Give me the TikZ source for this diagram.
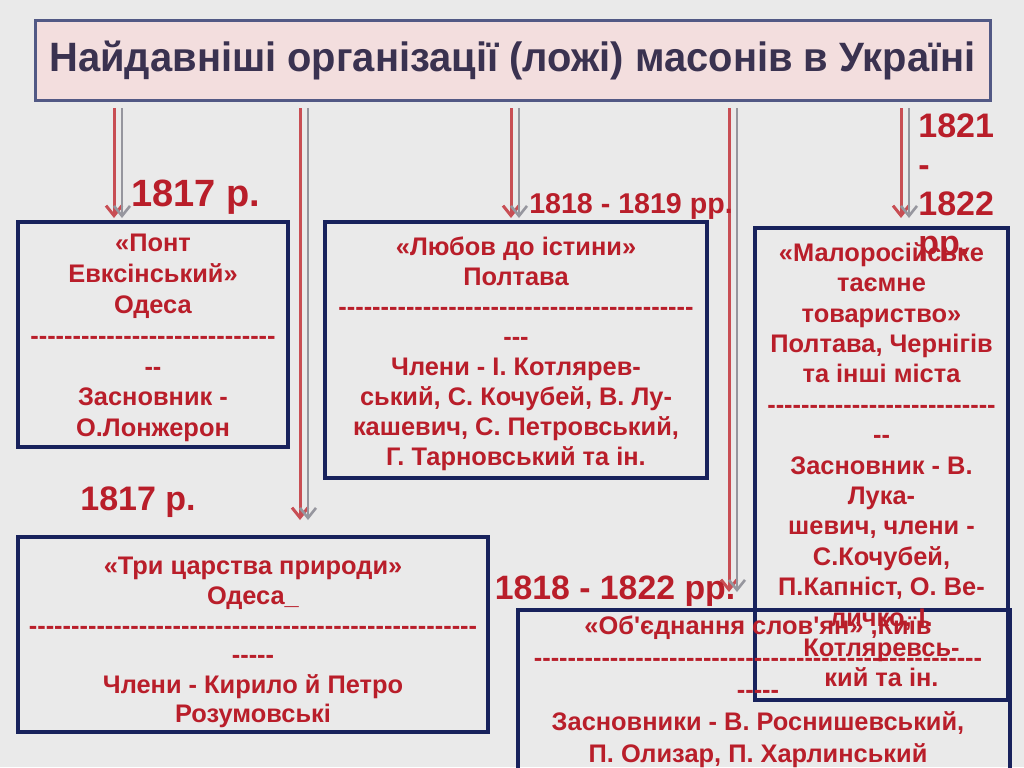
\documentclass[tikz,border=0pt]{standalone}
\usepackage{fontspec}
\setmainfont{Liberation Sans}[Ligatures=TeXOff]
\usetikzlibrary{arrows.meta,fit,positioning}
\definecolor{lodgered}{RGB}{185,30,42}
\definecolor{lodgeblue}{RGB}{24,34,92}
\definecolor{titlepink}{RGB}{243,222,222}
\definecolor{titleink}{RGB}{58,50,80}
\definecolor{paper}{RGB}{234,234,234}
\definecolor{arrowgray}{RGB}{150,150,158}
\definecolor{arrowred}{RGB}{200,78,84}
\newcommand{\dashrow}[1]{\foreach \k in {1,...,#1}{-}}
\tikzset{
  lodge/.style={draw=lodgeblue, line width=2pt, inner sep=0pt},
  lodgetext/.style={anchor=north, inner sep=0pt, align=center, text=lodgered,
    font=\bfseries\fontsize{12.7}{15.2}\selectfont},
  year/.style={text=lodgered, inner sep=0pt},
  redarr/.style={draw=arrowred, line width=1.5pt, -{Straight Barb[length=5pt,width=8pt]}},
  grayarr/.style={draw=arrowgray, line width=1.3pt, -{Straight Barb[length=5pt,width=8pt]}},
}
\begin{document}
\begin{tikzpicture}[x=0.5pt,y=-0.5pt]
  \fill[paper] (0,0) rectangle (1024,767);
  \useasboundingbox (0,0) rectangle (1024,767);
  % title
  \node[fit={(35,20) (990,100)}, draw=lodgeblue!75, fill=titlepink, line width=1.5pt, inner sep=0pt] (title) {};
  \node[text=titleink, font=\bfseries\fontsize{20.5}{21}\selectfont] (titletext) at (title.center)
    {\resizebox{463pt}{\height}{Найдавніші організації (ложі) масонів в Україні}};
  % arrows
  \foreach \x/\y [count=\i] in {118/218,304/520,515/218,733/592,905/218}{
    \coordinate (s\i) at (\x,108);
    \coordinate (e\i) at (\x,\y);
    \draw[redarr] ([xshift=-2pt]s\i) -- ([xshift=-2pt]e\i);
    \draw[grayarr] ([xshift=2pt]s\i) -- ([xshift=2pt]e\i);
  }
  % lodges
  \node[lodge, fit={(18,222) (288,447)}] (pont) {};
  \node[lodge, fit={(325,222) (707,478)}] (lyubov) {};
  \node[lodge, fit={(755,228) (1008,700)}] (malo) {};
  \node[lodge, fit={(18,537) (488,732)}] (tsarstva) {};
  \node[lodge, fit={(518,610) (1010,780)}] (slovyan) {};
  \node[lodgetext, font=\bfseries\fontsize{12.7}{15.4}\selectfont] (ponttext) at ([yshift=-7pt]pont.north)
    {«Понт\\Евксінський»\\Одеса\\\dashrow{29}\\--\\Засновник -\\О.Лонжерон};
  \node[lodgetext, font=\bfseries\fontsize{12.7}{15}\selectfont] (lyubovtext) at ([yshift=-8pt]lyubov.north)
    {«Любов до істини»\\Полтава\\\dashrow{42}\\---\\Члени - І. Котлярев-\\ський, С. Кочубей, В. Лу-\\кашевич, С. Петровський,\\Г. Тарновський та ін.};
  \node[lodgetext] (malotext) at ([yshift=-8pt]malo.north)
    {«Малоросійське\\таємне\\товариство»\\Полтава, Чернігів\\та інші міста\\\dashrow{27}\\--\\Засновник - В.\\Лука-\\шевич, члени -\\С.Кочубей,\\П.Капніст, О. Ве-\\личко, І.\\Котляревсь-\\кий та ін.};
  \node[lodgetext, font=\bfseries\fontsize{12.7}{14.8}\selectfont] (tsarstvatext) at ([yshift=-11pt]tsarstva.north)
    {«Три царства природи»\\Одеса\_\\\dashrow{53}\\-----\\Члени - Кирило й Петро\\Розумовські};
  \node[lodgetext, font=\bfseries\fontsize{12.7}{16}\selectfont] (slovyantext) at ([xshift=-3pt,yshift=-3.5pt]slovyan.north)
    {«Об'єднання слов'ян» ,Київ\\\dashrow{53}\\-----\\Засновники - В. Роснишевський,\\П. Олизар, П. Харлинський};
  % years
  \node[year, font=\bfseries\fontsize{19}{19}\selectfont] (y1817a) at (196,197) {1817 р.};
  \node[year, font=\bfseries\fontsize{17}{17}\selectfont] (y1817b) at (138,502) {1817 р.};
  \node[year, font=\bfseries\fontsize{14.3}{15}\selectfont] (y1818a) at (631,206) {1818 - 1819 рр.};
  \node[year, font=\bfseries\fontsize{16.9}{17}\selectfont] (y1818b) at (615,591) {1818 - 1822 рр.};
  \node[year, font=\bfseries\fontsize{17}{19.5}\selectfont, align=left, anchor=north west] (y1821) at (918,113) {1821\\-\\1822\\рр.};
\end{tikzpicture}
\end{document}
